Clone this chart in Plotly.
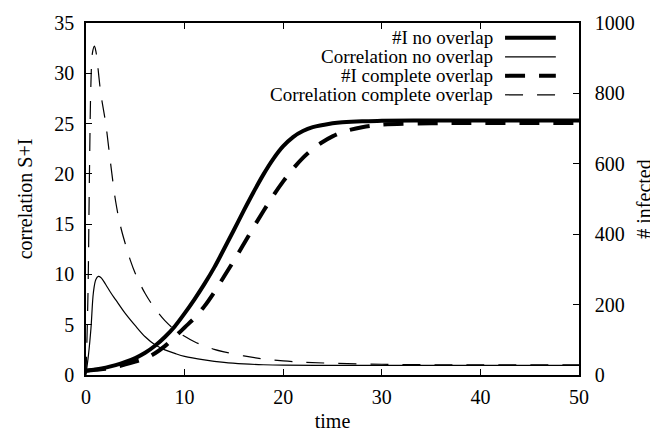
import plotly.graph_objects as go

# ---- data ----
t_corr_no = [0, 0.25, 0.5, 0.75, 1.0, 1.25, 1.5, 2, 2.5, 3, 4, 5, 6, 7, 8, 9, 10, 12, 14, 16, 18, 20, 25, 30, 40, 50]
corr_no = [0.1, 2.0, 4.6, 8.2, 9.5, 9.8, 9.7, 9.0, 8.2, 7.5, 6.1, 4.9, 3.8, 3.0, 2.5, 2.15, 1.85, 1.5, 1.25, 1.1, 1.02, 0.98, 0.96, 0.95, 0.95, 0.95]

t_corr_co = [0, 0.2, 0.35, 0.5, 0.65, 0.85, 1.0, 1.5, 2, 2.5, 3, 3.5, 4, 4.5, 5, 6, 7, 8, 9, 10, 11, 12, 13, 14, 16, 18, 20, 22, 25, 30, 35, 40, 50]
corr_co = [0, 8, 20, 29, 32, 32.7, 32.2, 28.0, 25.0, 21.0, 17.3, 14.8, 13.0, 11.4, 10.1, 8.1, 6.6, 5.4, 4.5, 3.85, 3.3, 2.9, 2.55, 2.3, 1.9, 1.6, 1.4, 1.28, 1.17, 1.07, 1.02, 1.0, 1.0]

t_inf = [0, 1, 2, 3, 4, 5, 6, 7, 8, 9, 10, 11, 12, 13, 14, 15, 16, 17, 18, 19, 20, 21, 22, 23, 24, 25, 26, 28, 30, 35, 40, 50]
inf_no = [12, 16, 21, 28, 37, 48, 63, 83, 108, 138, 175, 215, 258, 305, 358, 412, 467, 520, 570, 614, 650, 676, 693, 704, 710, 715, 718, 721, 722, 723, 723, 723]
inf_co = [12, 15, 18, 23, 30, 38, 47, 62, 82, 108, 135, 162, 195, 235, 280, 325, 372, 420, 466, 510, 550, 586, 617, 642, 662, 678, 690, 704, 711, 715, 716, 716]

x_ticks = [0, 10, 20, 30, 40, 50]
y_ticks = [0, 5, 10, 15, 20, 25, 30, 35]
y2_ticks = [0, 200, 400, 600, 800, 1000]

legend_labels = ["#I no overlap", "Correlation no overlap", "#I complete overlap", "Correlation complete overlap"]

FONT = "Liberation Serif"
styles = [
    dict(width=4, dash="solid"),
    dict(width=1.2, dash="solid"),
    dict(width=4, dash="20px,14px"),
    dict(width=1.2, dash="18px,14px"),
]

fig = go.Figure()
fig.add_trace(go.Scatter(x=t_inf, y=inf_no, mode="lines", yaxis="y2", line=dict(color="black", shape="spline", **styles[0]), name=legend_labels[0]))
fig.add_trace(go.Scatter(x=t_corr_no, y=corr_no, mode="lines", line=dict(color="black", shape="spline", **styles[1]), name=legend_labels[1]))
fig.add_trace(go.Scatter(x=t_inf, y=inf_co, mode="lines", yaxis="y2", line=dict(color="black", shape="spline", **styles[2]), name=legend_labels[2]))
fig.add_trace(go.Scatter(x=t_corr_co, y=corr_co, mode="lines", line=dict(color="black", shape="spline", **styles[3]), name=legend_labels[3]))

# manual gnuplot-style key (text right-aligned, sample to the right)
row_y = [0.958, 0.904, 0.85, 0.796]
for lab, st, ry in zip(legend_labels, styles, row_y):
    fig.add_annotation(x=0.83, y=ry, xref="paper", yref="paper", text=lab, showarrow=False,
                       xanchor="right", yanchor="middle", font=dict(family=FONT, size=19, color="black"))
    fig.add_shape(type="line", xref="paper", yref="paper", x0=0.85, x1=0.953, y0=ry, y1=ry,
                  line=dict(color="black", width=st["width"], dash=st["dash"]))

axis_common = dict(showgrid=False, zeroline=False, showline=True, linecolor="black", linewidth=1.5,
                   ticks="inside", ticklen=6, tickcolor="black", tickwidth=1, automargin=False,
                   tickfont=dict(family=FONT, size=20, color="black"))

fig.update_layout(
    width=658, height=434,
    margin=dict(l=78, r=87, t=15, b=67),
    paper_bgcolor="white", plot_bgcolor="white",
    showlegend=False,
    font=dict(family=FONT, color="black"),
    xaxis=dict(range=[0, 50], tickvals=x_ticks, mirror="ticks", ticklabelstandoff=3,
               title=dict(text="time", font=dict(family=FONT, size=20), standoff=7), **axis_common),
    yaxis=dict(range=[0, 35], tickvals=y_ticks, ticklabelstandoff=6,
               title=dict(text="correlation S+I", font=dict(family=FONT, size=20), standoff=16), **axis_common),
    yaxis2=dict(range=[0, 1000], tickvals=y2_ticks, overlaying="y", side="right", ticklabelstandoff=10,
                title=dict(text="# infected", font=dict(family=FONT, size=20), standoff=3), **axis_common),
)

fig.write_html("out.html")
